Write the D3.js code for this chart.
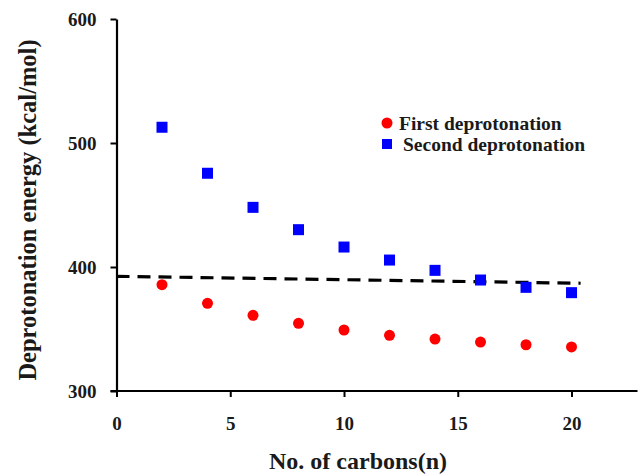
<!DOCTYPE html>
<html>
<head>
<meta charset="utf-8">
<script src="https://cdn.jsdelivr.net/npm/d3@7"></script>
<style>
  body { margin: 0; background: #fff; }
  text { font-family: "Liberation Serif", "Times New Roman", serif; font-weight: bold; fill: #1a1a1a; }
</style>
</head>
<body>
<svg id="chart" width="638" height="476"></svg>
<script>
// carbon counts and the two deprotonation series (kcal/mol)
const carbons = [2, 4, 6, 8, 10, 12, 14, 16, 18, 20];
const firstDep = [385.7, 370.7, 361.0, 354.6, 349.2, 344.9, 341.9, 339.5, 337.3, 335.5];
const secondDep = [512.7, 475.6, 448.1, 430.1, 416.1, 405.6, 397.3, 389.5, 383.6, 379.3];
// dashed trend line end points
const trendX = [0, 20.4];
const trendY = [392.5, 386.9];
const xTicks = [0, 5, 10, 15, 20];
const yTicks = [300, 400, 500, 600];
const legendLabels = ["First deprotonation", "Second deprotonation"];

let svg = d3.select("#chart");

let x = d3.scaleLinear().domain([0, 22.9]).range([116.5, 637.5]);
let y = d3.scaleLinear().domain([300, 600]).range([391, 19]);

// axes
let xAxis = svg.append("g")
  .attr("transform", "translate(0," + y(300) + ")")
  .call(d3.axisBottom(x).tickValues(xTicks).tickSize(6).tickSizeOuter(0).tickPadding(20));
let yAxis = svg.append("g")
  .attr("transform", "translate(" + x(0) + ",0)")
  .call(d3.axisLeft(y).tickValues(yTicks).tickSize(6).tickSizeOuter(0).tickPadding(14));

[xAxis, yAxis].forEach((a) => {
  a.selectAll("path").attr("stroke", "#000").attr("stroke-width", 2.2);
  a.selectAll(".tick line").attr("stroke", "#000").attr("stroke-width", 2);
  a.selectAll(".tick text").attr("font-size", 19).attr("fill", "#1a1a1a")
    .attr("font-family", "Liberation Serif").attr("font-weight", "bold");
});
// extend the x axis slightly left past the y axis, as in the original
xAxis.select("path").attr("d", "M" + (x(0) - 6) + ",0H" + x(22.9));

// trend line
svg.append("line")
  .attr("x1", x(trendX[0])).attr("y1", y(trendY[0]))
  .attr("x2", x(trendX[1])).attr("y2", y(trendY[1]))
  .attr("stroke", "#000").attr("stroke-width", 3.2)
  .attr("stroke-dasharray", "13,8");

// first deprotonation (red circles)
svg.append("g").selectAll("circle")
  .data(carbons.map((c, i) => ({ c: c, v: firstDep[i] })))
  .enter().append("circle")
  .attr("cx", (d) => x(d.c))
  .attr("cy", (d) => y(d.v))
  .attr("r", 5.5)
  .attr("fill", "#ff0000");

// second deprotonation (blue squares)
const sq = 11;
svg.append("g").selectAll("rect")
  .data(carbons.map((c, i) => ({ c: c, v: secondDep[i] })))
  .enter().append("rect")
  .attr("x", (d) => x(d.c) - sq / 2)
  .attr("y", (d) => y(d.v) - sq / 2)
  .attr("width", sq).attr("height", sq)
  .attr("fill", "#0000ff");

// legend
let legend = svg.append("g").attr("transform", "translate(387,123)");
legend.append("circle").attr("cx", 0).attr("cy", 0).attr("r", 5.5).attr("fill", "#ff0000");
legend.append("rect").attr("x", -5).attr("y", 21 - 5).attr("width", 10).attr("height", 10).attr("fill", "#0000ff");
legend.selectAll("text.lab")
  .data(legendLabels)
  .enter().append("text")
  .attr("class", "lab")
  .attr("x", (d, i) => (i == 0 ? 12 : 16))
  .attr("y", (d, i) => i * 21)
  .attr("dy", "0.35em")
  .attr("font-size", 19.5)
  .text((d) => d);

// axis titles
svg.append("text")
  .attr("x", 358).attr("y", 461).attr("dy", "0.35em")
  .attr("text-anchor", "middle").attr("font-size", 24)
  .text("No. of carbons(n)");
svg.append("text")
  .attr("transform", "translate(27,210) rotate(-90)")
  .attr("dy", "0.35em")
  .attr("text-anchor", "middle").attr("font-size", 24.5)
  .text("Deprotonation energy (kcal/mol)");
</script>
</body>
</html>
